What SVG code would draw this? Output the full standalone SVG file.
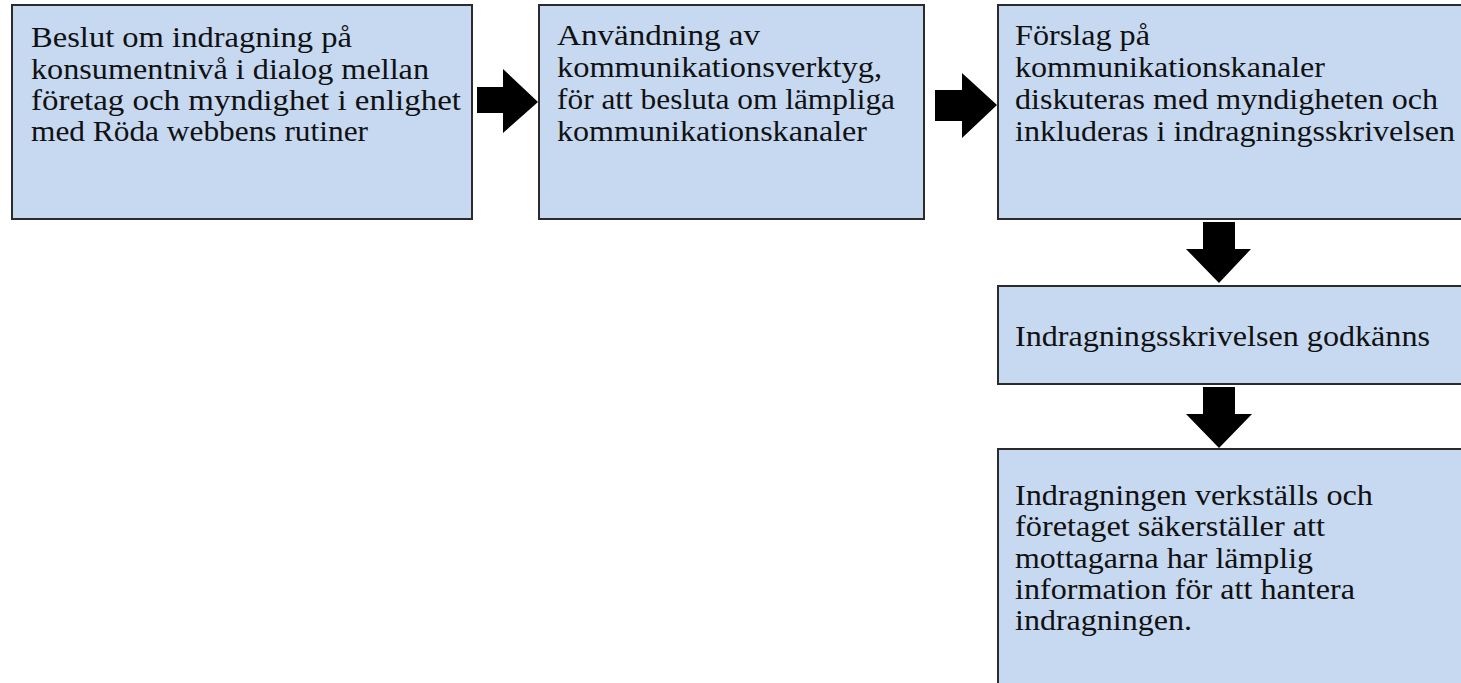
<svg xmlns="http://www.w3.org/2000/svg" width="1461" height="683" viewBox="0 0 1461 683">
<style>
.box{fill:#c6d9f1;stroke:#2b2b2b;stroke-width:2}
.t{font-family:"Liberation Serif","Times New Roman",serif;font-size:29px;fill:#111}
.arr{fill:#000}
</style>
<rect width="1461" height="683" fill="#fff"/>
<g id="connectors">
<path class="arr" d="M477,87 H503 V69 L538,102 L503,133 V113 H477 Z"/>
<path class="arr" d="M935,90 H962 V73 L997,105 L962,138 V121 H935 Z"/>
<path class="arr" d="M1203,222 H1235 V249 H1251 L1219,283 L1186,249 H1203 Z"/>
<path class="arr" d="M1203,387 H1235 V414 H1252 L1219,448 L1186,414 H1203 Z"/>
</g>
<g id="n1">
<rect class="box" x="12" y="5" width="460" height="214"/>
<text class="t"><tspan x="31" y="47" textLength="321" lengthAdjust="spacingAndGlyphs">Beslut om indragning på</tspan><tspan x="31" y="79" textLength="398" lengthAdjust="spacingAndGlyphs">konsumentnivå i dialog mellan</tspan><tspan x="31" y="110" textLength="430" lengthAdjust="spacingAndGlyphs">företag och myndighet i enlighet</tspan><tspan x="31" y="141" textLength="337" lengthAdjust="spacingAndGlyphs">med Röda webbens rutiner</tspan></text>
</g>
<g id="n2">
<rect class="box" x="539" y="5" width="385" height="214"/>
<text class="t"><tspan x="557" y="45" textLength="203" lengthAdjust="spacingAndGlyphs">Användning av</tspan><tspan x="557" y="77" textLength="325" lengthAdjust="spacingAndGlyphs">kommunikationsverktyg,</tspan><tspan x="557" y="109" textLength="338" lengthAdjust="spacingAndGlyphs">för att besluta om lämpliga</tspan><tspan x="557" y="141" textLength="310" lengthAdjust="spacingAndGlyphs">kommunikationskanaler</tspan></text>
</g>
<g id="n3">
<rect class="box" x="998" y="5" width="470" height="214"/>
<text class="t"><tspan x="1015" y="45" textLength="135" lengthAdjust="spacingAndGlyphs">Förslag på</tspan><tspan x="1015" y="77" textLength="310" lengthAdjust="spacingAndGlyphs">kommunikationskanaler</tspan><tspan x="1015" y="109" textLength="423" lengthAdjust="spacingAndGlyphs">diskuteras med myndigheten och</tspan><tspan x="1015" y="141" textLength="440" lengthAdjust="spacingAndGlyphs">inkluderas i indragningsskrivelsen</tspan></text>
</g>
<g id="n4">
<rect class="box" x="998" y="286" width="470" height="98"/>
<text class="t" x="1015" y="346" textLength="415" lengthAdjust="spacingAndGlyphs">Indragningsskrivelsen godkänns</text>
</g>
<g id="n5">
<rect class="box" x="998" y="449" width="470" height="250"/>
<text class="t"><tspan x="1015" y="505" textLength="358" lengthAdjust="spacingAndGlyphs">Indragningen verkställs och</tspan><tspan x="1015" y="536" textLength="310" lengthAdjust="spacingAndGlyphs">företaget säkerställer att</tspan><tspan x="1015" y="568" textLength="298" lengthAdjust="spacingAndGlyphs">mottagarna har lämplig</tspan><tspan x="1015" y="599" textLength="340" lengthAdjust="spacingAndGlyphs">information för att hantera</tspan><tspan x="1015" y="630" textLength="177" lengthAdjust="spacingAndGlyphs">indragningen.</tspan></text>
</g>
</svg>
